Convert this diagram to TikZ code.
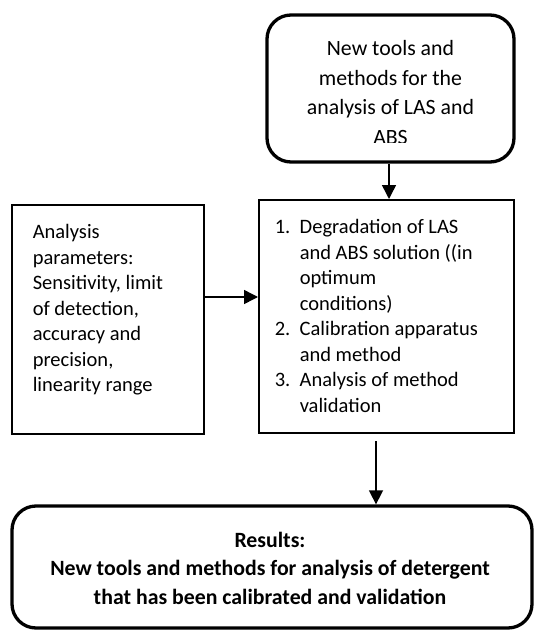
\documentclass[tikz,border=0pt]{standalone}
\usepackage{fontspec}
\setmainfont{Carlito}
\usetikzlibrary{arrows.meta}

\begin{document}
\begin{tikzpicture}[x=1pt, y=-1pt, line width=1.5pt, >={Triangle[length=14pt,width=14pt]},
    roundbox/.style={draw, line width=3.3pt, rounded corners=24pt, inner sep=0pt},
    plainbox/.style={draw, line width=2pt, inner sep=0pt},
    boxtext/.style={inner sep=0pt, font=\fontsize{20.5}{25.5}\selectfont}]
  \useasboundingbox (0,0) rectangle (536,631);
  % Nodes
  \node[roundbox, minimum width=247pt, minimum height=147pt] (tools) at (390.5,88.5) {};
  \begin{scope}
    \clip (267,15) rectangle (514,143);
    \node[boxtext, font=\fontsize{21.8}{29.5}\selectfont, align=center, anchor=north] (toolstext) at (390.5,40) {New tools and\\methods for the\\analysis of LAS and\\ABS};
  \end{scope}
  \node[plainbox, minimum width=192pt, minimum height=229pt] (params) at (108,319.5) {};
  \node[boxtext, align=left, anchor=north west] (paramstext) at (32,224) {Analysis\\parameters:\\Sensitivity, limit\\of detection,\\accuracy and\\precision,\\linearity range};
  \node[plainbox, minimum width=255pt, minimum height=233pt] (steps) at (386.5,316.5) {};
  \node[boxtext, align=left, anchor=north west] (stepstext) at (274,219)
    {\makebox[25pt][l]{1.}Degradation of LAS\\\hspace*{25pt}and ABS solution ((in\\\hspace*{25pt}optimum\\\hspace*{25pt}conditions)\\
     \makebox[25pt][l]{2.}Calibration apparatus\\\hspace*{25pt}and method\\
     \makebox[25pt][l]{3.}Analysis of method\\\hspace*{25pt}validation};
  \node[roundbox, minimum width=520pt, minimum height=122pt] (results) at (272,567) {};
  \node[boxtext, font=\bfseries\fontsize{21.8}{28.5}\selectfont, align=center] (resultstext) at (270,568) {Results:\\New tools and methods for analysis of detergent\\that has been calibrated and validation};
  % Arrows
  \draw[->] ([xshift=-1.5pt]tools.south) -- ([xshift=-1.5pt]tools.south |- steps.north);
  \draw[->] ([yshift=22.5pt]params.east) -- ([yshift=22.5pt]params.east -| steps.west);
  \draw[->] ([xshift=-10.5pt,yshift=-7pt]steps.south) -- ([xshift=-10.5pt]steps.south |- results.north);
\end{tikzpicture}
\end{document}
